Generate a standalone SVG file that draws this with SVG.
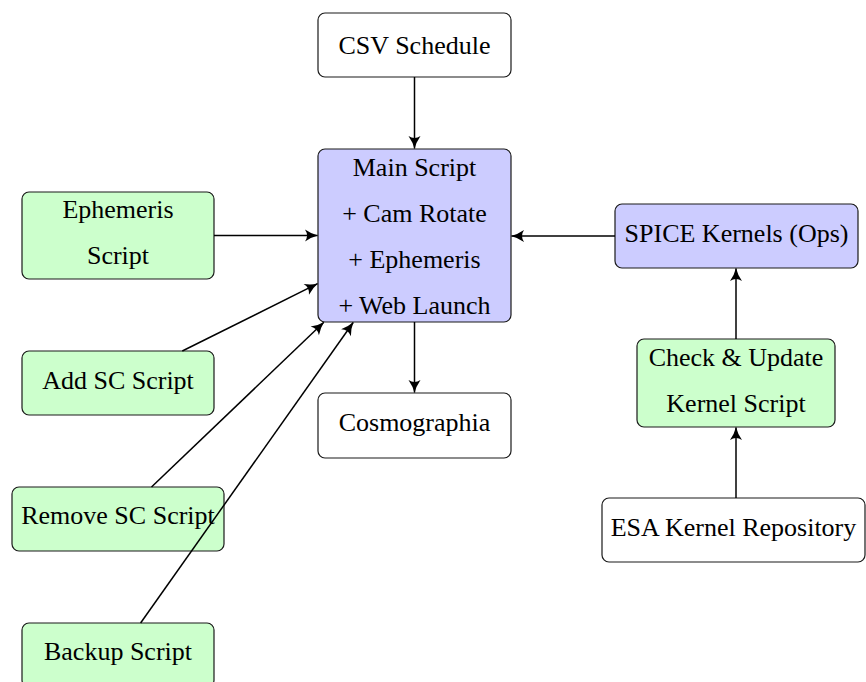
<svg xmlns="http://www.w3.org/2000/svg" width="866" height="682" viewBox="0 0 866 682">
  <style>
    .box { stroke: #1a1a1a; stroke-width: 1.2; }
    .plain { fill: #ffffff; }
    .blue { fill: #ccccff; }
    .green { fill: #ccffcc; }
    text { font-family: "Liberation Serif", "Times New Roman", serif; font-size: 26px; fill: #000; text-anchor: middle; }
    .edge { stroke: #000; stroke-width: 1.5; fill: none; marker-end: url(#head); }
  </style>
  <defs>
    <marker id="head" viewBox="-14 -7 15 14" refX="0" refY="0" markerWidth="15" markerHeight="14" markerUnits="userSpaceOnUse" orient="auto">
      <path d="M0.5,0 Q-6,-1.5 -12.5,-6 Q-8.5,0 -12.5,6 Q-6,1.5 0.5,0 Z" fill="#000"/>
    </marker>
  </defs>

  <g id="csv-schedule">
    <rect class="box plain" x="318" y="13" width="193" height="64" rx="7"/>
    <text x="414.5" y="54">CSV Schedule</text>
  </g>

  <g id="main-script">
    <rect class="box blue" x="318" y="149" width="193" height="173" rx="7"/>
    <text x="414.5" y="175.5">Main Script</text>
    <text x="414.5" y="221.5">+ Cam Rotate</text>
    <text x="414.5" y="267.5">+ Ephemeris</text>
    <text x="414.5" y="313.5">+ Web Launch</text>
  </g>

  <g id="ephemeris-script">
    <rect class="box green" x="22" y="192" width="192" height="87" rx="7"/>
    <text x="118" y="217.5">Ephemeris</text>
    <text x="118" y="263.5">Script</text>
  </g>

  <g id="add-sc-script">
    <rect class="box green" x="22" y="351" width="192" height="64" rx="7"/>
    <text x="118" y="388.5">Add SC Script</text>
  </g>

  <g id="remove-sc-script">
    <rect class="box green" x="12" y="487" width="212" height="64" rx="7"/>
    <text x="118" y="524">Remove SC Script</text>
  </g>

  <g id="backup-script">
    <rect class="box green" x="22" y="623" width="192" height="64" rx="7"/>
    <text x="118" y="660">Backup Script</text>
  </g>

  <g id="cosmographia">
    <rect class="box plain" x="318" y="393" width="193" height="65" rx="7"/>
    <text x="414.5" y="431">Cosmographia</text>
  </g>

  <g id="spice-kernels">
    <rect class="box blue" x="615" y="204" width="243" height="64" rx="7"/>
    <text x="736.5" y="241.5">SPICE Kernels (Ops)</text>
  </g>

  <g id="check-update">
    <rect class="box green" x="637" y="339" width="198" height="88" rx="7"/>
    <text x="736" y="366">Check &amp; Update</text>
    <text x="736" y="411.5">Kernel Script</text>
  </g>

  <g id="esa-repository">
    <rect class="box plain" x="602" y="498" width="263" height="64" rx="7"/>
    <text x="733.5" y="536">ESA Kernel Repository</text>
  </g>

  <!-- connectors, drawn above the nodes -->
  <g id="edges">
    <line class="edge" x1="414.5" y1="77" x2="414.5" y2="148.5"/>
    <line class="edge" x1="214" y1="235.5" x2="317.5" y2="235.5"/>
    <line class="edge" x1="182.3" y1="351" x2="317.5" y2="283.7"/>
    <line class="edge" x1="151.5" y1="487" x2="323.8" y2="322.3"/>
    <line class="edge" x1="140.6" y1="623" x2="353.2" y2="322.5"/>
    <line class="edge" x1="414.5" y1="322" x2="414.5" y2="392.5"/>
    <line class="edge" x1="615" y1="236" x2="511.5" y2="236"/>
    <line class="edge" x1="736" y1="339" x2="736" y2="268.5"/>
    <line class="edge" x1="736" y1="498" x2="736" y2="427.5"/>
  </g>
</svg>
